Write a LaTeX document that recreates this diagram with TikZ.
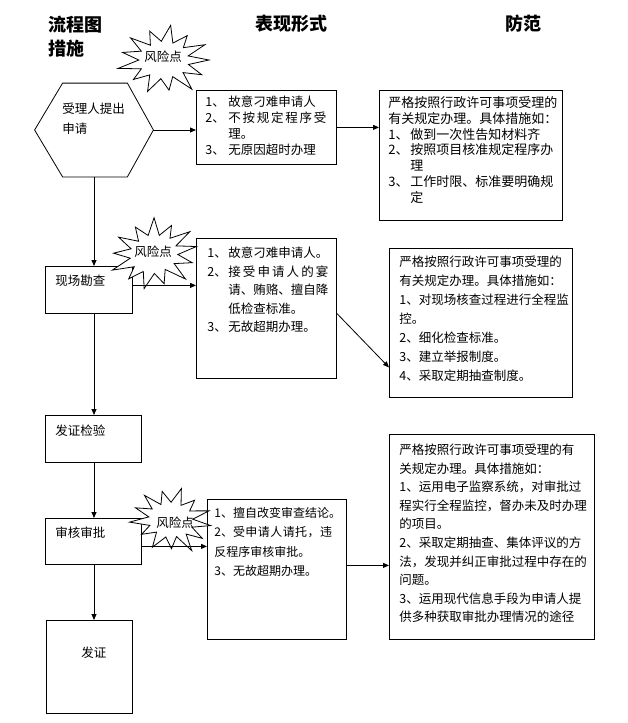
\documentclass[tikz,border=0pt]{standalone}
\usepackage{fontspec}
\setmainfont{Noto Sans CJK SC}
\usetikzlibrary{positioning, arrows.meta}
\tikzset{
stepbox/.style={shape=rectangle, draw, inner sep=0, anchor=north west},
boxtext/.style={anchor=north west, inner sep=0, align=left, font=\fontsize{12.5}{#1}\selectfont}, boxtext/.default=18,
head/.style={anchor=north west, inner sep=0, align=left, font=\fontsize{18}{24}\selectfont\bfseries},
risk/.style={inner sep=0, font=\fontsize{12.5}{15}\selectfont},
link/.style={-{Triangle[length=6pt, width=5pt]}}}
\newcommand{\itm}[2][23pt]{\makebox[#1][l]{#2}}
\newcommand{\burst}[5]{\draw [fill=white, shift={(#1.center)}, shift={(#5)}, rotate=#4, xscale=#2, yscale=#3] (0:1)
  \foreach \a/\f in {14/.56, 28/.95, 42/.57, 55/1.08, 69/.54, 83/.92, 97/.57, 111/1.02, 125/.55, 139/.9, 152/.57, 166/1.05, 180/.56,
    194/.95, 208/.57, 222/1.0, 236/.54, 250/.93, 264/.57, 278/1.06, 291/.55, 305/.9, 319/.57, 333/1.02, 347/.55}{ -- (\a:\f)} -- cycle;}

\begin{document}
\begin{tikzpicture}[x=1pt, y=-1pt, line width=0.8pt]
\useasboundingbox (0,0) rectangle (627,723);
\node [head] (head-flow) at (48,16) {流程图\\措施};
\node [head] (head-form) at (255,15) {表现形式};
\node [head] (head-guard) at (505,15) {防范};

\node [minimum width=118pt, minimum height=93pt, inner sep=0] (apply) at (94,130) {};
\draw (apply.west) -- ([xshift=28pt]apply.north west) -- ([xshift=-26pt]apply.north east)
  -- (apply.east) -- ([xshift=-26pt]apply.south east) -- ([xshift=28pt]apply.south west) -- cycle;
\node [boxtext=20] (apply-text) at (62,103) {受理人提出\\申请};

\node [stepbox, minimum width=87pt, minimum height=47pt] (survey) at (45,266) {};
\node [boxtext] (survey-text) at (55,274.5) {现场勘查};
\node [stepbox, minimum width=96pt, minimum height=47pt] (check) at (45,415) {};
\node [boxtext] (check-text) at (55,424.5) {发证检验};
\node [stepbox, minimum width=96pt, minimum height=46pt] (approve) at (45,518) {};
\node [boxtext] (approve-text) at (55,526.5) {审核审批};
\node [stepbox, minimum width=86pt, minimum height=93pt] (issue) at (46,620) {};
\node [boxtext] (issue-text) at (81,646.5) {发证};

\node [stepbox, minimum width=140pt, minimum height=74pt] (form-1) at (196,90) {};
\node [boxtext=16] (form-1-text) at (205,95.5) {\itm{1、}故意刁难申请人\\
  \itm{2、}\makebox[98pt][s]{不\hfill 按\hfill 规\hfill 定\hfill 程\hfill 序\hfill 受}\\
  \hspace*{23pt}理。\\
  \itm{3、}无原因超时办理};
\node [stepbox, minimum width=140pt, minimum height=140pt] (form-2) at (196,238) {};
\node [boxtext=18.5] (form-2-text) at (207,246.5) {\itm[21pt]{1、}故意刁难申请人。\\
  \itm[21pt]{2、}\makebox[100pt][s]{接\hfill 受\hfill 申\hfill 请\hfill 人\hfill 的\hfill 宴}\\
  \hspace*{21pt}请、贿赂、擅自降\\
  \hspace*{21pt}低检查标准。\\
  \itm[21pt]{3、}无故超期办理。};
\node [stepbox, minimum width=139pt, minimum height=140pt] (form-3) at (207,499) {};
\node [boxtext=19.5, font=\fontsize{12}{19.5}\selectfont] (form-3-text) at (214,506.5) {1、擅自改变审查结论。\\
  2、\makebox[99pt][s]{受\hfill 申\hfill 请\hfill 人\hfill 请\hfill 托\hfill ，\hfill 违}\\
  反程序审核审批。\\
  3、无故超期办理。};

\node [stepbox, minimum width=183pt, minimum height=130pt] (guard-1) at (379,90) {};
\node [boxtext=15.7, font=\fontsize{13}{15.7}\selectfont] (guard-1-text) at (388,96.5) {严格按照行政许可事项受理的\\
  有关规定办理。具体措施如：\\
  \itm[22pt]{1、}做到一次性告知材料齐\\
  \itm[22pt]{2、}按照项目核准规定程序办\\
  \hspace*{22pt}理\\
  \itm[22pt]{3、}工作时限、标准要明确规\\
  \hspace*{22pt}定};
\node [stepbox, minimum width=183pt, minimum height=149pt] (guard-2) at (389,248) {};
\node [boxtext=19] (guard-2-text) at (399,255.5) {严格按照行政许可事项受理的\\
  有关规定办理。具体措施如：\\
  1、对现场核查过程进行全程监\\
  控。\\
  2、细化检查标准。\\
  3、建立举报制度。\\
  4、采取定期抽查制度。};
\node [stepbox, minimum width=205pt, minimum height=205pt] (guard-3) at (389,434) {};
\node [boxtext=18.6] (guard-3-text) at (399,443.5) {严格按照行政许可事项受理的有\\
  关规定办理。具体措施如：\\
  1、运用电子监察系统，对审批过\\
  程实行全程监控，督办未及时办理\\
  的项目。\\
  2、采取定期抽查、集体评议的方\\
  法，发现并纠正审批过程中存在的\\
  问题。\\
  3、运用现代信息手段为申请人提\\
  供多种获取审批办理情况的途径};

\coordinate (spot-1) at (163,57);
\burst{spot-1}{45}{33}{0}{1,3}
\node [risk] (risk-1) at (spot-1) {风险点};
\coordinate (spot-2) at (153,252);
\burst{spot-2}{43}{34}{10}{1,2}
\node [risk] (risk-2) at (spot-2) {风险点};
\coordinate (spot-3) at (175,523);
\burst{spot-3}{40}{31}{-8}{-4,-3}
\node [risk] (risk-3) at (spot-3) {风险点};

\draw [link] (apply.east) -- (apply.east -| form-1.west);
\draw [link] (form-1.east) -- (form-1.east -| guard-1.west);
\draw [link] ([yshift=4.5pt]survey.east) -- ([yshift=4.5pt]survey.east -| form-2.west);
\draw [link] ([yshift=-5pt]form-2.east) -- ([yshift=-44.5pt]guard-2.west);
\draw [link] ([yshift=-5pt]approve.east) -- ([yshift=-5pt]approve.east -| form-3.west);
\draw [link] ([yshift=4pt]form-3.east) -- ([yshift=4pt]form-3.east -| guard-3.west);

\draw [link] (apply.south) -- (apply.south |- survey.north);
\draw [link] (survey.south -| apply.south) -- (check.north -| apply.south);
\draw [link] (check.south -| apply.south) -- (approve.north -| apply.south);
\draw [link] (approve.south -| apply.south) -- (issue.north -| apply.south);
\end{tikzpicture}
\end{document}
